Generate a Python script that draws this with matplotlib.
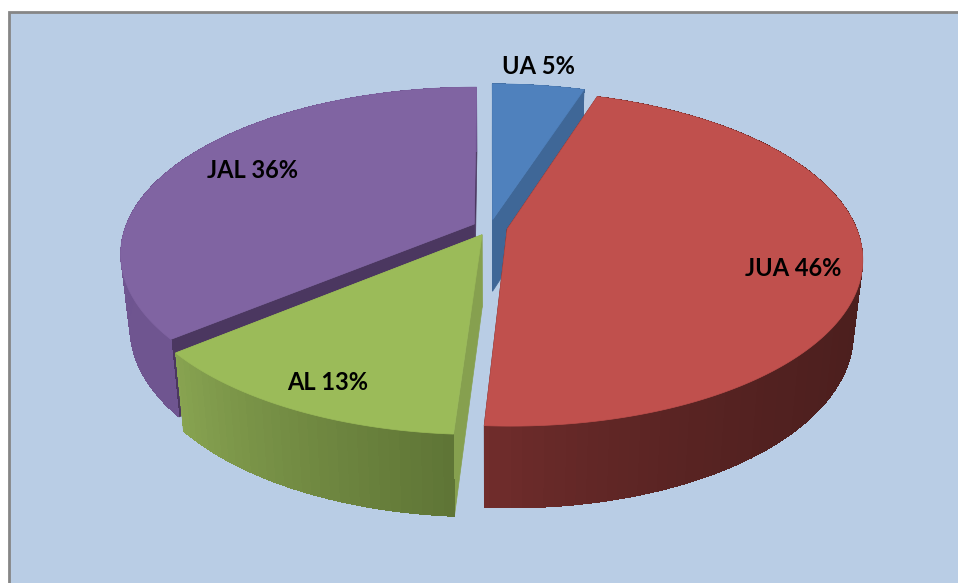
import numpy as np
import matplotlib
matplotlib.use("Agg")
import matplotlib.pyplot as plt
from matplotlib.patches import Polygon, Rectangle
from matplotlib.colors import to_rgb

labels = ["UA", "JUA", "AL", "JAL"]
shares = [5, 46, 13, 36]
top_colors = ["#4f81bd", "#c0504d", "#9bbb59", "#8064a2"]
cut_colors = ["#3f6797", "#4b1f1e", "#86a04f", "#4b3760"]
side_start = ["#3f6797", "#4a1e1d", "#5f7536", "#6f5590"]
side_end = ["#3f6797", "#712d2c", "#88a451", "#6d5390"]
side_gamma = [1, 5, 1, 1]
label_xy = [(538, 66), (793, 268), (328, 382), (253, 171)]

# pie geometry in pixels
cx, cy = 490, 227.5
rx, ry = 349, 162
persp = 0.175
depth = 72
shrink = 0.025
explode = 0.05


def project(u, v, h=0.0):
    s = 1 / (1 + persp * v)
    # the lower rim sits further from the viewer so it pulls in a little
    return cx + rx * u * s * (1 - shrink * h), cy - ry * v * s + depth * h * s ** 0.66


def rim(a0, a1, du, dv, h=0.0):
    t = np.radians(np.linspace(a0, a1, max(int(a1 - a0) * 2, 2)))
    return [project(du + np.sin(a), dv + np.cos(a), h) for a in t]


fig = plt.figure(figsize=(9.58, 5.83), dpi=100)
ax = fig.add_axes([0, 0, 1, 1])
ax.set_xlim(0, 958)
ax.set_ylim(583, 0)
ax.axis("off")

ax.add_patch(Rectangle((9, 12), 960, 580, facecolor="#b9cde5", edgecolor="#868686", linewidth=2))

edges = np.cumsum([0] + shares) * 3.6
order = [0, 3, 2, 1]
for i in order:
    a0, a1 = edges[i], edges[i + 1]
    mid = np.radians((a0 + a1) / 2)
    du, dv = explode * np.sin(mid), explode * np.cos(mid)
    centre_top = project(du, dv)
    centre_low = project(du, dv, 1.0)

    # the two cut faces
    for a in (a0, a1):
        ang = np.radians(a)
        p_top = project(du + np.sin(ang), dv + np.cos(ang))
        p_low = project(du + np.sin(ang), dv + np.cos(ang), 1.0)
        ax.add_patch(Polygon([centre_top, p_top, p_low, centre_low], closed=True,
                             facecolor=cut_colors[i], edgecolor=cut_colors[i], linewidth=0.5))

    # outer wall: one smooth silhouette, then hard edged strips for the shading
    c0, c1 = np.array(to_rgb(side_start[i])), np.array(to_rgb(side_end[i]))
    upper = rim(a0, a1, du, dv)
    lower = rim(a0, a1, du, dv, 1.0)
    ax.add_patch(Polygon(upper + lower[::-1], closed=True, facecolor=tuple((c0 + c1) / 2),
                         edgecolor="none"))
    steps = np.arange(a0, a1, 1.5).tolist() + [a1]
    for n in range(len(steps) - 1):
        f = (n / max(len(steps) - 2, 1)) ** side_gamma[i]
        col = tuple(c0 + (c1 - c0) * f)
        upper = rim(steps[n], steps[n + 1], du, dv)
        lower = rim(steps[n], steps[n + 1], du, dv, 1.0)
        ax.add_patch(Polygon(upper + lower[::-1], closed=True, facecolor=col,
                             edgecolor="none", antialiased=False))

    # top surface
    ax.add_patch(Polygon([centre_top] + rim(a0, a1, du, dv), closed=True,
                         facecolor=top_colors[i], edgecolor=top_colors[i], linewidth=0.5))

for name, share, (x, y) in zip(labels, shares, label_xy):
    ax.text(x, y, f"{name} {share}%", ha="center", va="center", fontsize=17,
            fontweight="bold", family="Lato", color="black")

fig.savefig("out.png", dpi=100)
